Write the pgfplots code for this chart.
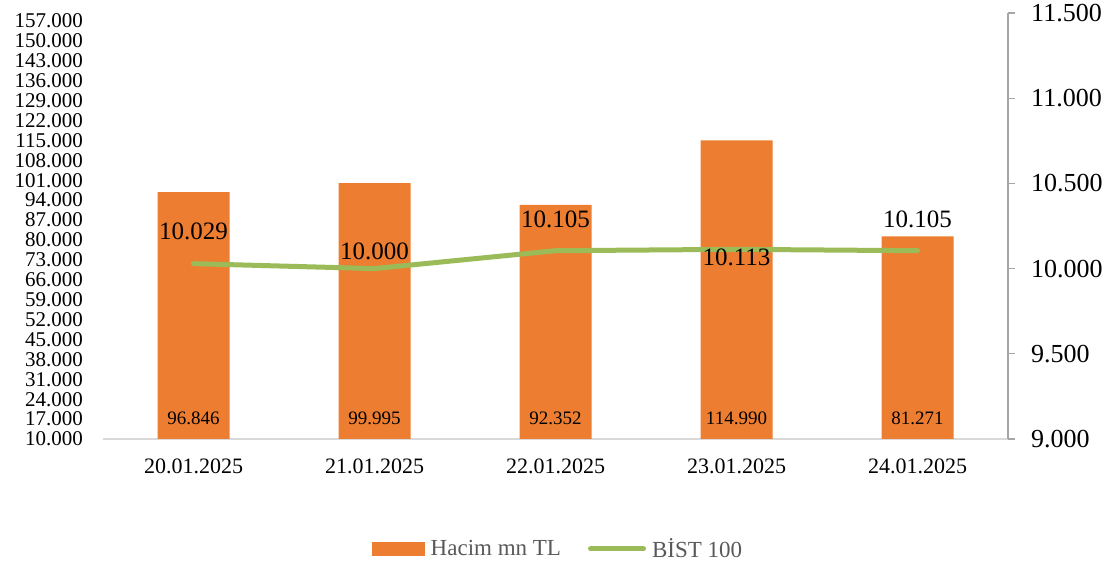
\documentclass[border=0pt]{standalone}
\usepackage{pgfplots}
\pgfplotsset{compat=1.18}
\usepackage{fontspec}
\setmainfont{Liberation Serif}
\definecolor{barc}{HTML}{ED7D31}
\definecolor{linec}{HTML}{9BBB59}
\definecolor{axc}{HTML}{D9D9D9}
\definecolor{raxc}{HTML}{A6A6A6}
\definecolor{legc}{HTML}{595959}
\begin{document}
\begin{tikzpicture}[x=1pt,y=1pt]
\path[use as bounding box] (0,0) rectangle (1115,567);
\begin{axis}[
  at={(103pt,128pt)}, anchor=south west,
  width=905pt, height=426pt, scale only axis,
  xmin=-0.5, xmax=4.5, ymin=10000, ymax=159813,
  axis x line*=bottom, axis y line*=left,
  y axis line style={draw=none},
  x axis line style={draw=axc, line width=1.5pt, -},
  xtick={0,1,2,3,4},
  xticklabels={20.01.2025,21.01.2025,22.01.2025,23.01.2025,24.01.2025},
  xtick style={draw=none},
  ytick style={draw=none},
  ytick={10000,17000,...,157000},
  scaled y ticks=false,
  xticklabel style={anchor=center, yshift=-27pt, inner sep=0pt, font=\fontsize{22}{22}\selectfont},
  yticklabel style={anchor=east, xshift=-20pt, inner sep=0pt, font=\fontsize{21}{21}\selectfont},
  /pgf/number format/.cd, fixed, precision=0, 1000 sep={.}, assume math mode=true,
]
\addplot[ybar, bar width=72pt, fill=barc, draw=none] coordinates {(0,96846) (1,99995) (2,92352) (3,114990) (4,81271)};
\addplot[draw=none, mark=none, nodes near coords, point meta=explicit symbolic,
  every node near coord/.append style={anchor=center, text=black, inner sep=0pt, font=\fontsize{19}{19}\selectfont}]
  table[meta=l] {
x y l
0 17400 96.846
1 17400 99.995
2 17400 92.352
3 17400 114.990
4 17400 81.271
};
\end{axis}
\begin{axis}[
  at={(103pt,128pt)}, anchor=south west,
  width=905pt, height=426pt, scale only axis,
  xmin=-0.5, xmax=4.5, ymin=9000, ymax=11500,
  axis x line=none, axis y line*=right,
  ytick={9000,9500,...,11500},
  scaled y ticks=false,
  tick align=outside, major tick length=7pt,
  y axis line style={draw=raxc, line width=1.2pt, -},
  ytick style={draw=raxc, line width=1.2pt},
  yticklabel style={anchor=west, xshift=16pt, inner sep=0pt, font=\fontsize{26}{26}\selectfont},
  legend style={at={(0.503,-0.258)}, anchor=center, draw=none, fill=none,
    font=\fontsize{23}{23}\selectfont, text=legc,
    /tikz/every odd column/.append style={column sep=4pt},
    /tikz/every even column/.append style={column sep=25pt}},
  legend columns=2,
  /pgf/number format/.cd, fixed, precision=0, 1000 sep={.}, assume math mode=true,
]
\addlegendimage{legend image code/.code={\fill[barc] (0pt,-6.5pt) rectangle (52pt,6.5pt);}}
\addlegendimage{legend image code/.code={\draw[linec,line width=5pt,line cap=round] (2pt,0pt) -- (55pt,0pt);}}
\addplot[forget plot, linec, line width=5pt, line cap=round, line join=round, mark=none,
  nodes near coords, point meta=explicit symbolic,
  visualization depends on={\thisrow{dy}\as\dy},
  every node near coord/.append style={anchor=center, yshift=\dy, text=black, inner sep=0pt, font=\fontsize{25}{25}\selectfont}]
  table[meta=l] {
x y dy l
0 10029 32 10.029
1 10000 17 10.000
2 10105 31 10.105
3 10113 -8 10.113
4 10105 31 10.105
};
\legend{Hacim mn TL, BİST 100}
\end{axis}
\end{tikzpicture}
\end{document}
